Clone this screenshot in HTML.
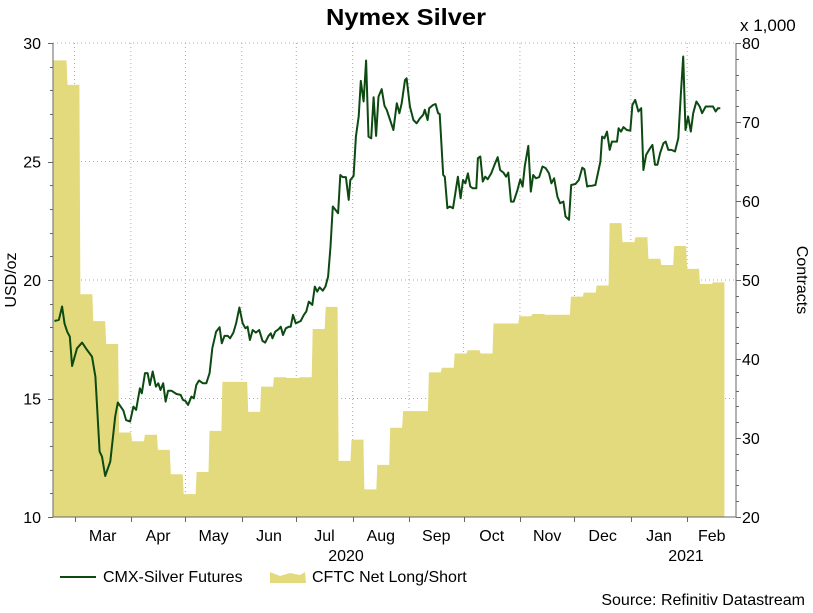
<!DOCTYPE html>
<html><head><meta charset="utf-8"><style>
body{margin:0;background:#fff;}
svg text{font-family:"Liberation Sans",sans-serif;}
</style></head><body>
<svg id="chart" width="813" height="608" xmlns="http://www.w3.org/2000/svg">
<rect x="0" y="0" width="813" height="608" fill="#fff"/>
<g id="grid"></g>
<g id="area"></g>
<g id="line"></g>
<g id="axes"></g>
<text x="406" y="25" text-anchor="middle" font-size="23" font-weight="bold" textLength="160" lengthAdjust="spacingAndGlyphs">Nymex Silver</text>
<text x="740" y="31" font-size="17">x 1,000</text>
<text transform="translate(16,280) rotate(-90)" text-anchor="middle" font-size="16">USD/oz</text>
<text transform="translate(797,280) rotate(90)" text-anchor="middle" font-size="16">Contracts</text>
<text x="346" y="561" text-anchor="middle" font-size="16">2020</text>
<text x="686" y="561" text-anchor="middle" font-size="16">2021</text>
<g>
<line x1="60" y1="577" x2="96" y2="577" stroke="#0d4a12" stroke-width="2"/>
<text x="103" y="582" font-size="16">CMX-Silver Futures</text></g>
<g>
<polygon points="270,583 270,572 280,576 290,573 300,575 305,572 306,583" fill="#e3da7e"/>
<text x="312" y="582" font-size="16">CFTC Net Long/Short</text></g>
<text x="805" y="605" text-anchor="end" font-size="16">Source: Refinitiv Datastream</text>
</svg>
<script>
const cftcStartDay = -11.5;
const cftcWeekDays = 7.1;
const cftcValues = [77.8,74.7,48.2,44.8,41.9,30.7,29.6,30.4,28.5,25.4,22.9,25.7,30.9,37.1,37.1,33.3,36.5,37.7,37.6,37.7,43.8,46.6,27.1,29.8,23.5,26.6,31.3,33.4,33.4,38.3,38.9,40.7,41.1,40.7,44.5,44.5,45.4,45.7,45.6,45.6,47.9,48.4,49.3,57.2,54.8,55.4,52.7,51.9,54.3,51.4,49.5,49.7];
const silverDays = [-11,-8.6,-6.8,-5.5,-4,-2.6,-1.3,1.4,4.2,6.9,9.6,11.5,13.8,15.1,16.9,19.7,22.4,23.8,26.9,28.4,30.6,32.4,33.9,36,37,38.8,40.2,41.5,43,44.8,46.1,47.3,48.8,50.1,51.5,53.3,56.1,58.4,59.7,61,62.5,64.3,65.6,67,68.5,70.7,72.5,74.3,75.8,77.9,79.8,81,82.5,84.3,85.6,87.4,88.9,90.7,92.5,94,95.2,96.5,98,99.8,101.6,103.4,104.9,106.7,108,108.9,110.4,112.2,113.5,114.7,116.2,118,118.9,120.2,121.7,124.4,126.2,127.5,128.9,130.8,132.2,133.5,134.8,136.6,138,139.5,140.8,142.1,143.5,145,146.2,147.5,149.3,150.8,151.7,153.5,154.8,156.3,157.5,159,160.4,161.7,163.2,164.5,165.9,167.2,169,170.5,171.7,173.6,175.4,177.3,178.7,180,181.8,182.7,184.5,186.4,188.2,190,191.8,192.7,194.2,195.1,197.3,198.6,200,200.9,202.8,203.7,205.1,206.4,208.2,210.9,212.4,213.7,215,216.4,217.7,219.1,221,221.9,223.2,224.6,225.9,227.3,229.2,231,232.8,234.1,235.9,237.4,238.6,240.1,241.6,243.7,245.2,246.5,247.7,249.6,251,252.3,253.8,255.6,257.4,259.2,261,262.3,263.8,265.6,267.1,268.9,270.1,272,273.2,275.6,277.4,279.3,280.5,282,282.9,284.7,286.5,289.3,290.2,291.5,292.9,294.4,295.6,298.4,299.3,300.6,302,303.8,305.7,306.9,308.4,310.2,311.7,312.9,314.4,316.6,317.9,319.3,320.6,322.1,323.9,325.2,326.6,328.4,330.3,332.1,333.5,334.8,336.1,337.5,339,340.3,342.1,343.9,345.2,347.2,349.4,351.2,352.7,353.9,355.2];
const silverPrices = [18.27,18.32,18.88,18.17,17.82,17.61,16.37,17.12,17.36,17.05,16.77,15.92,12.76,12.55,11.73,12.34,14.24,14.83,14.49,14.09,14.03,14.66,14.52,15.43,15.22,16.07,16.07,15.57,16.14,15.5,15.64,15.36,15.64,14.87,15.33,15.33,15.19,15.15,14.94,14.9,14.73,15.08,15.01,15.57,15.76,15.64,15.64,16.07,17.12,17.82,18.01,17.33,17.64,17.64,17.54,17.78,18.17,18.84,18.17,17.96,18.03,17.47,17.89,17.78,17.89,17.43,17.36,17.64,17.75,17.54,17.82,17.92,18.03,17.68,17.96,18.03,18.03,18.53,18.17,18.27,18.53,18.67,19.09,18.95,19.72,19.51,19.69,19.55,19.72,20.14,21.41,23.1,22.96,22.82,24.43,24.34,24.34,23.38,24.22,24.39,26.05,26.9,28.4,27.53,29.26,26.05,25.98,27.71,26.08,27.74,28.05,27.35,27.18,26.75,26.33,27.46,27.04,27.46,28.44,28.51,27.32,26.75,26.61,26.82,26.97,27.18,26.75,27.25,27.39,27.42,27.04,27.01,24.43,24.36,23.03,23.1,23.03,24.36,23.45,24.22,24.08,24.5,23.94,23.87,23.87,25.14,25.21,24.15,24.36,24.25,24.5,24.86,25.18,24.64,24.53,24.36,24.53,23.31,23.31,23.8,24.25,23.94,24.81,25.66,23.73,24.43,24.29,24.34,24.79,24.72,24.5,24.08,24.29,23.52,23.24,23.31,22.68,22.54,24.01,24.05,24.22,24.74,24.67,23.94,23.97,23.98,24.01,25,26.05,25.98,26.26,25.49,25.84,25.84,26.4,26.26,26.45,26.33,26.3,27.39,27.6,27.11,27.25,24.64,25.28,25.56,25.7,24.86,24.86,25.35,25.77,25.84,25.49,25.49,25.42,25.98,27.81,29.43,26.33,26.9,26.26,27.04,27.53,27.32,27.04,27.32,27.32,27.32,27.11,27.25,27.25];
const monthLabels = ["Mar","Apr","May","Jun","Jul","Aug","Sep","Oct","Nov","Dec","Jan","Feb"];
const monthStartDays = [0,31,61,92,122,153,184,214,245,275,306,337,365];
const leftTicks = [10,15,20,25,30];
const rightTicks = [20,30,40,50,60,70,80];

const L=53,R=736,T=43,B=517,END_DAY=357.5;
const xS=d=>74.5+d*1.818;
const yL=v=>B-(v-10)/20*(B-T);
const yR=v=>B-(v-20)/60*(B-T);
const NS="http://www.w3.org/2000/svg";
function mk(tag,parent){const e=document.createElementNS(NS,tag);parent.appendChild(e);return e;}
const grid=document.getElementById('grid'),area=document.getElementById('area'),line=document.getElementById('line'),axes=document.getElementById('axes');

leftTicks.forEach(v=>{if(v===10)return;const g=mk('line',grid);


g.setAttribute('x1',L);g.setAttribute('x2',R);g.setAttribute('y1',yL(v));g.setAttribute('y2',yL(v));
g.setAttribute('stroke','#7fc49a');g.setAttribute('stroke-dasharray','1,3');});
monthStartDays.slice(0,12).forEach(d=>{const g=mk('line',grid);


g.setAttribute('x1',xS(d));g.setAttribute('x2',xS(d));g.setAttribute('y1',T);g.setAttribute('y2',B);
g.setAttribute('stroke','#7fc49a');g.setAttribute('stroke-dasharray','1,3');});

let pts=[[xS(cftcStartDay),B]];
cftcValues.forEach((v,i)=>{const d0=cftcStartDay+i*cftcWeekDays;let d1=d0+cftcWeekDays;if(i===cftcValues.length-1)d1=END_DAY;
pts.push([xS(d0)+(i?1:0),yR(v)]);pts.push([xS(d1),yR(v)]);});
pts.push([xS(END_DAY),B]);
const poly=mk('polygon',area);


poly.setAttribute('points',pts.map(p=>Math.max(L,p[0]).toFixed(1)+','+p[1].toFixed(1)).join(' '));
poly.setAttribute('fill','#e3da7e');

const pl=mk('polyline',line);


pl.setAttribute('points',silverDays.map((d,i)=>xS(d).toFixed(1)+','+yL(silverPrices[i]).toFixed(1)).join(' '));
pl.setAttribute('fill','none');pl.setAttribute('stroke','#0d4a12');pl.setAttribute('stroke-width','2');pl.setAttribute('stroke-linejoin','round');

function ln(x1,y1,x2,y2,name){const e=mk('line',axes);


e.setAttribute('x1',x1);e.setAttribute('y1',y1);e.setAttribute('x2',x2);e.setAttribute('y2',y2);e.setAttribute('stroke','#666');e.setAttribute('stroke-width','1');}
ln(L,T,L,B,'left-axis-line');ln(R,T,R,B,'right-axis-line');ln(L,B,R,B,'x-axis-line');
for(let v=10;v<=30;v++){const y=Math.round(yL(v))+0.5;ln(L-(v%5===0?5:3),y,L,y,'left-tick');}
for(let v=20;v<=80;v+=2){const y=Math.round(yR(v))+0.5;ln(R,y,R+(v%10===0?5:3),y,'right-tick');}
monthStartDays.slice(0,12).forEach(d=>{const x=Math.round(xS(d))+0.5;ln(x,B,x,B+5,'x-tick');});
function tx(x,y,s,anchor,name){const e=mk('text',axes);


e.setAttribute('x',x);e.setAttribute('y',y);e.setAttribute('text-anchor',anchor);e.setAttribute('font-size','16');e.textContent=s;}
leftTicks.forEach(v=>tx(41,yL(v)+6,v,'end','left-tick-label'));
rightTicks.forEach(v=>tx(742,yR(v)+6,v,'start','right-tick-label'));
monthLabels.forEach((m,i)=>{const a=xS(monthStartDays[i]),b=Math.min(xS(monthStartDays[i+1]),xS(END_DAY)+12);tx((a+b)/2,541,m,'middle','month-label');});
</script>
</body></html>
